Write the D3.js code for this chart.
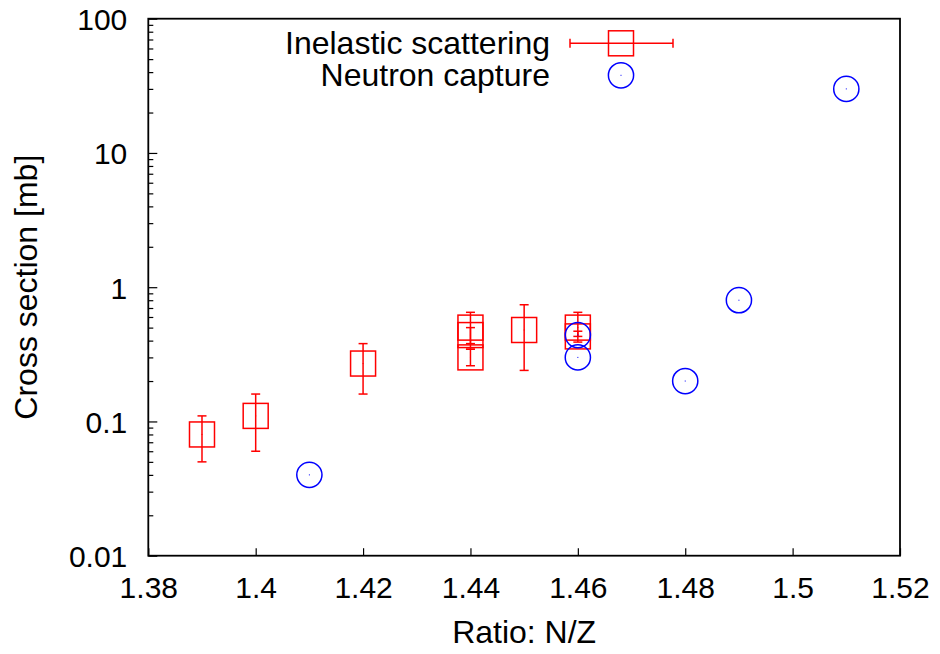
<!DOCTYPE html>
<html>
<head>
<meta charset="utf-8">
<script src="https://cdn.jsdelivr.net/npm/d3@7"></script>
<style>
  html, body { margin: 0; padding: 0; background: #fff; }
  svg { display: block; }
  text { font-family: "Liberation Sans", Arial, Helvetica, sans-serif; fill: #000; }
</style>
</head>
<body>
<svg id="chart" width="940" height="654"></svg>
<script>
// ---- data ----
const inelasticX    = [1.39, 1.40, 1.42, 1.44, 1.44, 1.44, 1.45, 1.46, 1.46];
const inelasticY    = [0.08, 0.11, 0.27, 0.50, 0.44, 0.30, 0.48, 0.50, 0.43];
const inelasticLow  = [0.05, 0.06, 0.16, 0.38, 0.345, 0.26, 0.24, 0.43, 0.39];
const inelasticHigh = [0.11, 0.16, 0.38, 0.65, 0.50, 0.345, 0.74, 0.65, 0.47];

const captureX = [1.41, 1.46, 1.46, 1.48, 1.49, 1.51];
const captureY = [0.04, 0.44, 0.30, 0.20, 0.80, 30];

const xTicks = [1.38, 1.40, 1.42, 1.44, 1.46, 1.48, 1.50, 1.52];
const xTickLabels = ["1.38", "1.4", "1.42", "1.44", "1.46", "1.48", "1.5", "1.52"];
const yTicks = [0.01, 0.1, 1, 10, 100];
const yTickLabels = ["0.01", "0.1", "1", "10", "100"];

const seriesNames = ["Inelastic scattering", "Neutron capture"];
const xTitle = "Ratio: N/Z";
const yTitle = "Cross section [mb]";

// ---- layout ----
const L = 148.3, R = 900, T = 18.7, B = 555.7;
const FS = 32, FT = 30;
const RED = "#ff0000", BLUE = "#0000ff";
const SQ = 25, CR = 12.6, CAP = 4.5;

const svg = d3.select("#chart");
const x = d3.scaleLinear().domain([1.38, 1.52]).range([L, R]);
const y = d3.scaleLog().domain([0.01, 100]).range([B, T]);

// minor log ticks
const minor = [];
for (let d = 0; d < 4; d++) {
  for (let m = 2; m <= 9; m++) minor.push(m * yTicks[d]);
}

// x axis (bottom, inward ticks)
const xAxis = d3.axisBottom(x).tickValues(xTicks)
  .tickFormat((d, i) => xTickLabels[i]).tickSizeInner(-7.5).tickSizeOuter(0).tickPadding(20);
const gx = svg.append("g").attr("transform", `translate(0,${B})`).call(xAxis);
gx.select(".domain").remove();
gx.selectAll(".tick line").attr("stroke", "#000").attr("stroke-width", 1.2);
gx.selectAll(".tick text").attr("font-size", FT).attr("dy", "0.71em").attr("y", 21);

// y axis (left, inward ticks)
const yAxis = d3.axisLeft(y).tickValues(yTicks)
  .tickFormat((d, i) => yTickLabels[i]).tickSizeInner(-9).tickSizeOuter(0);
const gy = svg.append("g").attr("transform", `translate(${L},0)`).call(yAxis);
gy.select(".domain").remove();
gy.selectAll(".tick line").attr("stroke", "#000").attr("stroke-width", 1.2);
gy.selectAll(".tick text").attr("font-size", FT).attr("x", -21).attr("dy", "0.36em");

const yMinor = d3.axisLeft(y).tickValues(minor).tickFormat("").tickSizeInner(-5).tickSizeOuter(0);
const gym = svg.append("g").attr("transform", `translate(${L},0)`).call(yMinor);
gym.select(".domain").remove();
gym.selectAll(".tick line").attr("stroke", "#000").attr("stroke-width", 1.2);

// frame
svg.append("rect").attr("x", L).attr("y", T).attr("width", R - L).attr("height", B - T)
  .attr("fill", "none").attr("stroke", "#000").attr("stroke-width", 1.8);

// axis titles
svg.append("text").attr("x", (L + R) / 2).attr("y", 643).attr("text-anchor", "middle")
  .attr("font-size", FS).text(xTitle);
svg.append("text").attr("transform", `translate(37,${(T + B) / 2}) rotate(-90)`)
  .attr("text-anchor", "middle").attr("font-size", FS).text(yTitle);

// inelastic scattering
const inel = inelasticX.map((v, i) => ({ x: v, y: inelasticY[i], lo: inelasticLow[i], hi: inelasticHigh[i] }));
const gi = svg.append("g").attr("stroke", RED).attr("stroke-width", 1.5).attr("fill", "none");
inel.forEach(d => {
  const cx = x(d.x);
  gi.append("line").attr("x1", cx).attr("x2", cx).attr("y1", y(d.lo)).attr("y2", y(d.hi));
  gi.append("line").attr("x1", cx - CAP).attr("x2", cx + CAP).attr("y1", y(d.lo)).attr("y2", y(d.lo));
  gi.append("line").attr("x1", cx - CAP).attr("x2", cx + CAP).attr("y1", y(d.hi)).attr("y2", y(d.hi));
  gi.append("rect").attr("x", cx - SQ / 2).attr("y", y(d.y) - SQ / 2).attr("width", SQ).attr("height", SQ);
  gi.append("rect").attr("x", cx - 0.5).attr("y", y(d.y) - 0.5).attr("width", 1).attr("height", 1)
    .attr("stroke", "none").attr("fill", RED);
});

// neutron capture
const cap = captureX.map((v, i) => ({ x: v, y: captureY[i] }));
const gc = svg.append("g");
gc.selectAll("circle").data(cap).join("circle")
  .attr("cx", d => x(d.x)).attr("cy", d => y(d.y)).attr("r", CR)
  .attr("fill", "none").attr("stroke", BLUE).attr("stroke-width", 1.5);
gc.selectAll("rect").data(cap).join("rect")
  .attr("x", d => x(d.x) - 0.5).attr("y", d => y(d.y) - 0.5).attr("width", 1).attr("height", 1)
  .attr("fill", BLUE);

// legend
const lg = svg.append("g");
const legTextX = 550, legKeyX = 621, rows = [43.3, 75.3];
seriesNames.forEach((name, i) => {
  lg.append("text").attr("x", legTextX).attr("y", rows[i] + 10.5).attr("text-anchor", "end")
    .attr("font-size", FS).text(name);
});
const l0 = lg.append("g").attr("stroke", RED).attr("stroke-width", 1.5).attr("fill", "none");
l0.append("line").attr("x1", 570).attr("x2", 673).attr("y1", rows[0]).attr("y2", rows[0]);
l0.append("line").attr("x1", 570).attr("x2", 570).attr("y1", rows[0] - CAP).attr("y2", rows[0] + CAP);
l0.append("line").attr("x1", 673).attr("x2", 673).attr("y1", rows[0] - CAP).attr("y2", rows[0] + CAP);
l0.append("rect").attr("x", legKeyX - SQ / 2).attr("y", rows[0] - SQ / 2).attr("width", SQ).attr("height", SQ);
lg.append("circle").attr("cx", legKeyX).attr("cy", rows[1]).attr("r", CR)
  .attr("fill", "none").attr("stroke", BLUE).attr("stroke-width", 1.5);
lg.append("rect").attr("x", legKeyX - 0.5).attr("y", rows[1] - 0.5).attr("width", 1).attr("height", 1).attr("fill", BLUE);
</script>
</body>
</html>
